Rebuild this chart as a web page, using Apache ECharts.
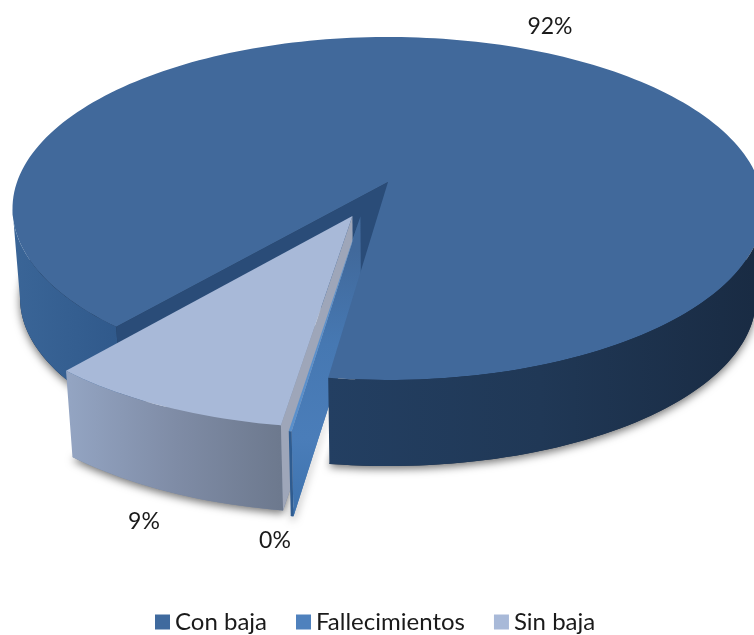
<!DOCTYPE html>
<html>
<head>
<meta charset="utf-8">
<style>html,body{margin:0;padding:0;background:#fff}#c{width:754px;height:635px}</style>
<script src="https://cdn.jsdelivr.net/npm/echarts@6/dist/echarts.min.js"></script>
</head>
<body>
<div id="c"></div>
<script>
// Data
const categories = ['Con baja', 'Fallecimientos', 'Sin baja'];
const values = [92, 0.1, 9];
const seriesColors = ['#3f6a9e', '#4f81bd', '#a8b9d8'];

// Projection of the tilted disc (drawing constants)
const view = { x0: 388, y0: 182, A: 167.4, B: 371, k: 0.1545, depth: 90, shrink: 0.98 };
const firstAngle = 130.25;
const explode = [[0, 0, 1], [-0.072, 0.2, 1.02], [-0.093, 0.197, 1.0]];
const labelAt = [[550, 27], [275, 541], [144, 522]];

const total = values.reduce((a, b) => a + b, 0);
const rad = d => d * Math.PI / 180;
function project(u, v, low) {
  const w = 1 / (1 - view.k * v), s = low ? view.shrink : 1;
  return [view.x0 + s * view.B * u * w, view.y0 + s * view.A * v * w + (low ? view.depth : 0)];
}
let cursor = firstAngle;
const slices = values.map((val, i) => {
  const sweep = val / total * 360;
  const s = { start: cursor, end: cursor + sweep, cu: explode[i][0], cv: explode[i][1], r: explode[i][2] };
  cursor += sweep;
  return s;
});
function rim(s, a, low) {
  return project(s.cu + s.r * Math.cos(rad(a)), s.cv + s.r * Math.sin(rad(a)), low);
}
function arc(s, from, to, low) {
  const n = Math.max(2, Math.ceil(Math.abs(to - from) / 1.5)), pts = [];
  for (let i = 0; i <= n; i++) pts.push(rim(s, from + (to - from) * i / n, low));
  return pts;
}
const apex = (s, low) => project(s.cu, s.cv, low);
const topFace = s => [apex(s, false)].concat(arc(s, s.start, s.end, false));
const floor = s => [apex(s, true)].concat(arc(s, s.start, s.end, true));
const rimFace = (s, a, b) => arc(s, a, b, false).concat(arc(s, a, b, true).reverse());
const cutFace = (s, a) => [apex(s, false), rim(s, a, false), rim(s, a, true), apex(s, true)];
const gradX = (x1, x2, stops) => ({ type: 'linear', x: x1, y: 0, x2: x2, y2: 0, global: true,
  colorStops: stops.map(p => ({ offset: p[0], color: p[1] })) });
const gradY = (y1, y2, stops) => ({ type: 'linear', x: 0, y: y1, x2: 0, y2: y2, global: true,
  colorStops: stops.map(p => ({ offset: p[0], color: p[1] })) });
const poly = (points, fill, z2, extra) => ({ type: 'polygon', z2: z2, silent: true,
  shape: { points: points }, style: Object.assign({ fill: fill }, extra || {}) });
const shadow = { shadowBlur: 9, shadowColor: 'rgba(0,0,0,0.55)', shadowOffsetY: 3 };

function label(i) {
  return { type: 'text', z2: 50, silent: true, style: {
    x: labelAt[i][0], y: labelAt[i][1], text: Math.round(values[i]) + '%',
    fill: '#1a1a1a', font: '23px Lato', align: 'center', verticalAlign: 'middle' } };
}
const painters = [
  function (s) {
    return [
      poly(floor(s), '#1b2e47', 1, shadow),
      poly(cutFace(s, s.start), '#2a4c78', 3),
      poly(rimFace(s, s.start, 171), gradX(14, 130, [[0, '#3a6597'], [1, '#2f588a']]), 4),
      poly(rimFace(s, 369, s.end), gradX(327, 754, [[0, '#233f62'], [0.5, '#203856'], [1, '#192b43']]), 30),
      poly(topFace(s), '#41699b', 20),
      label(0)
    ];
  },
  function (s) {
    return [
      poly(floor(s), '#3f74ae', 2, shadow),
      poly(cutFace(s, s.start), gradY(250, 518, [[0, '#41699b'], [0.35, '#4678b2'], [0.7, '#4a7db9'], [1, '#3d72ad']]), 15),
      poly(rimFace(s, s.start, s.end), '#2f5c90', 16),
      poly(topFace(s), '#5a90cc', 17),
      label(1)
    ];
  },
  function (s) {
    return [
      poly(floor(s), '#7a879e', 2, shadow),
      poly(rimFace(s, s.start, s.end), gradX(70, 280, [[0, '#93a4c2'], [0.5, '#7f8ca6'], [1, '#6d798e']]), 10),
      poly(cutFace(s, s.start), '#9ea6b9', 11),
      poly(topFace(s), '#a8b9d8', 12),
      label(2)
    ];
  }
];

const chart = echarts.init(document.getElementById('c'));
chart.setOption({
  animation: false,
  legend: {
    data: categories.map(n => ({ name: n, icon: 'rect' })),
    left: 150, top: 605, itemWidth: 15, itemHeight: 15, itemGap: 29, selectedMode: false,
    textStyle: { fontFamily: 'Lato', fontSize: 24, color: '#1a1a1a' }
  },
  series: categories.map((name, i) => ({
    type: 'custom', name: name, coordinateSystem: 'none', silent: true,
    itemStyle: { color: seriesColors[i] },
    data: [values[i]],
    renderItem: () => ({ type: 'group', children: painters[i](slices[i]) })
  }))
});
</script>
</body>
</html>
